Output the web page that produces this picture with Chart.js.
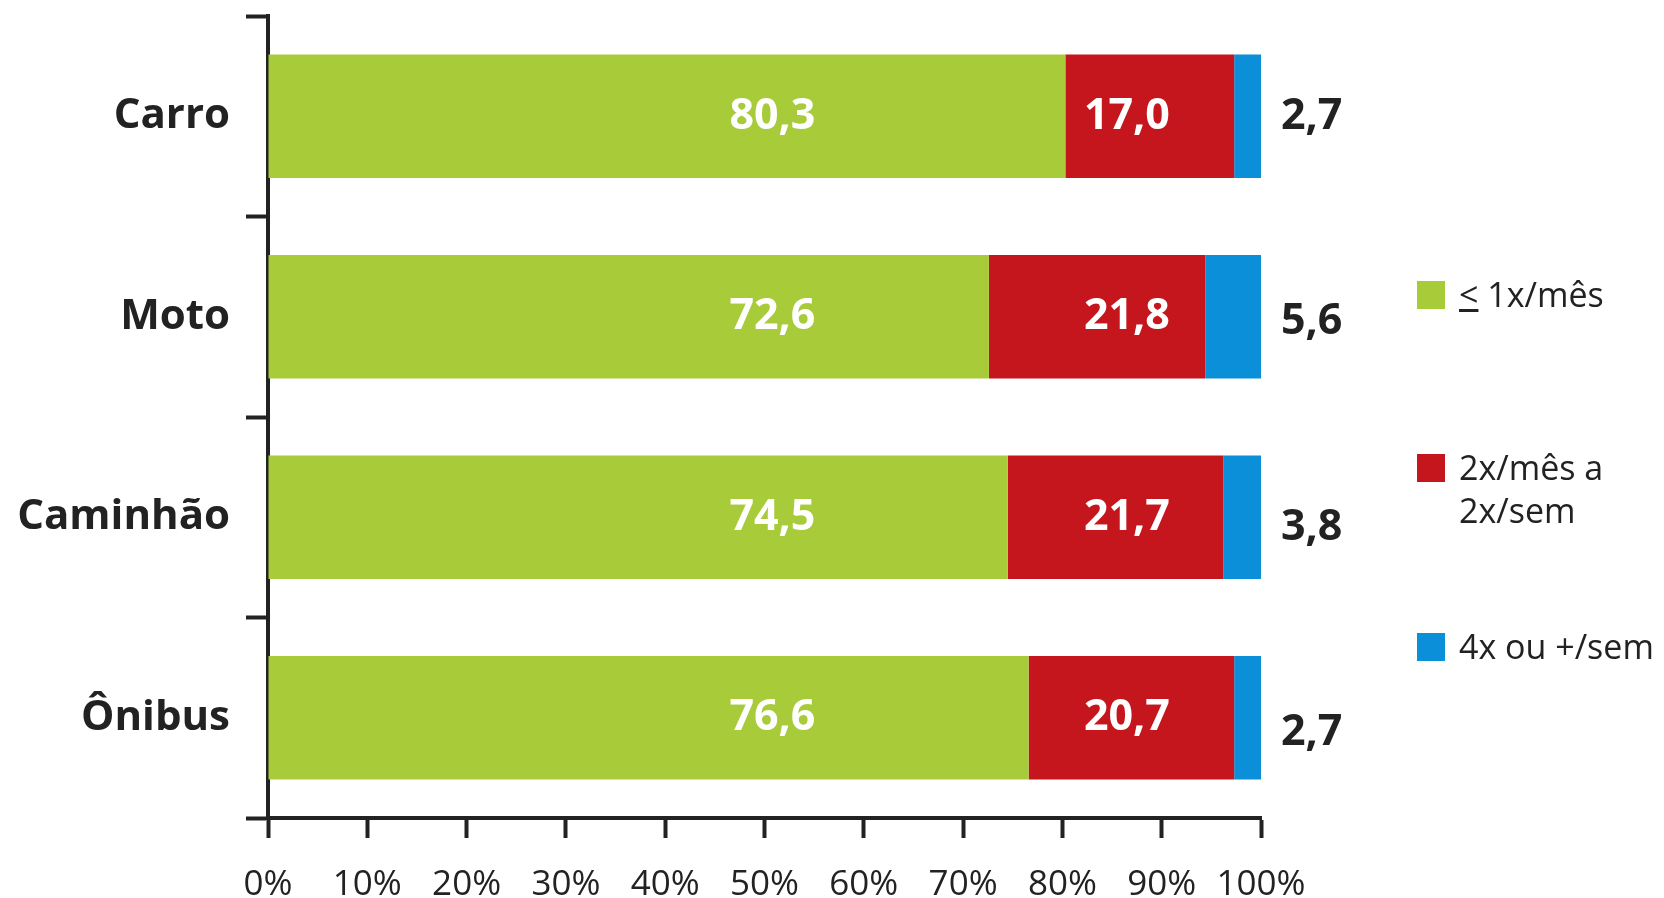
<!DOCTYPE html>
<html>
<head>
<meta charset="utf-8">
<script src="https://cdn.jsdelivr.net/npm/chart.js@4/dist/chart.umd.min.js"></script>
<style>
  html, body { margin: 0; padding: 0; background: #fff; }
  #wrap { position: relative; width: 1664px; height: 898px; }
  #legend { position: absolute; left: 1417px; top: 0; font-family: "Open Sans", sans-serif; font-size: 34px; color: #222; }
  .item { position: absolute; left: 0; display: flex; align-items: flex-start; white-space: nowrap; }
  .box { width: 28px; height: 28px; margin-right: 14px; flex: none; }
  .txt { line-height: 43px; margin-top: -8px; }
</style>
</head>
<body>
<div id="wrap">
  <canvas id="BarChart" width="1664" height="898"></canvas>
  <div id="legend"></div>
</div>
<script>
const categories = ['Carro', 'Moto', 'Caminhão', 'Ônibus'];
const seriesNames = [['≤ 1x/mês'], ['2x/mês a', '2x/sem'], ['4x ou +/sem']];
const lowFreq = [80.3, 72.6, 74.5, 76.6];
const midFreq = [17.0, 21.8, 21.7, 20.7];
const highFreq = [2.7, 5.6, 3.8, 2.7];
const xTicks = [0, 10, 20, 30, 40, 50, 60, 70, 80, 90, 100];

const colors = ['#a8cb3a', '#c4161c', '#0a8fd8'];
const ink = '#222222';
const labelFont = 'bold 43px "Open Sans", sans-serif';

const fmt = (v) => v.toFixed(1).replace('.', ',');

// writes the numbers on / beside the bars
const valueLabels = {
  id: 'valueLabels',
  afterDatasetsDraw(chart) {
    const ctx = chart.ctx;
    const xs = chart.scales.x;
    ctx.save();
    ctx.font = labelFont;
    ctx.textBaseline = 'middle';
    chart.data.datasets.forEach((ds, i) => {
      const meta = chart.getDatasetMeta(i);
      meta.data.forEach((bar, j) => {
        const txt = fmt(ds.data[j]);
        if (i === 2) {
          ctx.fillStyle = ink;
          ctx.textAlign = 'left';
          ctx.fillText(txt, bar.x + 20, bar.y + 5 * j);
        } else {
          ctx.fillStyle = '#ffffff';
          ctx.textAlign = 'center';
          const pos = i === 0 ? 50.8 : 86.5;
          ctx.fillText(txt, xs.getPixelForValue(pos), bar.y);
        }
      });
    });
    ctx.restore();
  },
};

const canvas = document.getElementById('BarChart');
new Chart(canvas, {
  type: 'bar',
  data: {
    labels: categories,
    datasets: [lowFreq, midFreq, highFreq].map((d, i) => ({
      label: seriesNames[i].join(' '),
      data: d,
      backgroundColor: colors[i],
      borderWidth: 0,
      barPercentage: 0.615,
      categoryPercentage: 1,
    })),
  },
  options: {
    indexAxis: 'y',
    responsive: false,
    animation: false,
    layout: { padding: { top: 16, right: 403, left: 0, bottom: 0 } },
    plugins: {
      legend: { display: false },
      tooltip: { enabled: false },
    },
    scales: {
      x: {
        stacked: true,
        min: 0,
        max: 100,
        afterFit: (s) => { s.height = 80; },
        afterBuildTicks: (s) => { s.ticks = xTicks.map((v) => ({ value: v })); },
        border: { color: ink, width: 4 },
        grid: { drawOnChartArea: false, drawTicks: true, tickLength: 20, tickWidth: 4, tickColor: ink },
        ticks: {
          color: ink,
          padding: 26,
          maxRotation: 0,
          font: { family: '"Open Sans", sans-serif', size: 35 },
          callback: (v) => v + '%',
        },
      },
      y: {
        stacked: true,
        afterFit: (s) => { s.width = 268; s.paddingTop = 0; s.paddingBottom = 0; },
        border: { color: ink, width: 4 },
        grid: { offset: true, drawOnChartArea: false, drawTicks: true, tickLength: 22, tickWidth: 4, tickColor: ink },
        ticks: {
          color: ink,
          padding: 16,
          font: { family: '"Open Sans", sans-serif', size: 42, weight: 'bold' },
        },
      },
    },
  },
  plugins: [valueLabels],
});

// legend on the right, built from the series names
const legendTops = [281, 454, 633];
const legend = document.getElementById('legend');
seriesNames.forEach((lines, i) => {
  const item = document.createElement('div');
  item.className = 'item';
  item.style.top = legendTops[i] + 'px';
  const box = document.createElement('div');
  box.className = 'box';
  box.style.background = colors[i];
  const txt = document.createElement('div');
  txt.className = 'txt';
  txt.innerHTML = lines.map((l) => l.replace('≤', '<u>&lt;</u>')).join('<br>');
  item.appendChild(box);
  item.appendChild(txt);
  legend.appendChild(item);
});
</script>
</body>
</html>
